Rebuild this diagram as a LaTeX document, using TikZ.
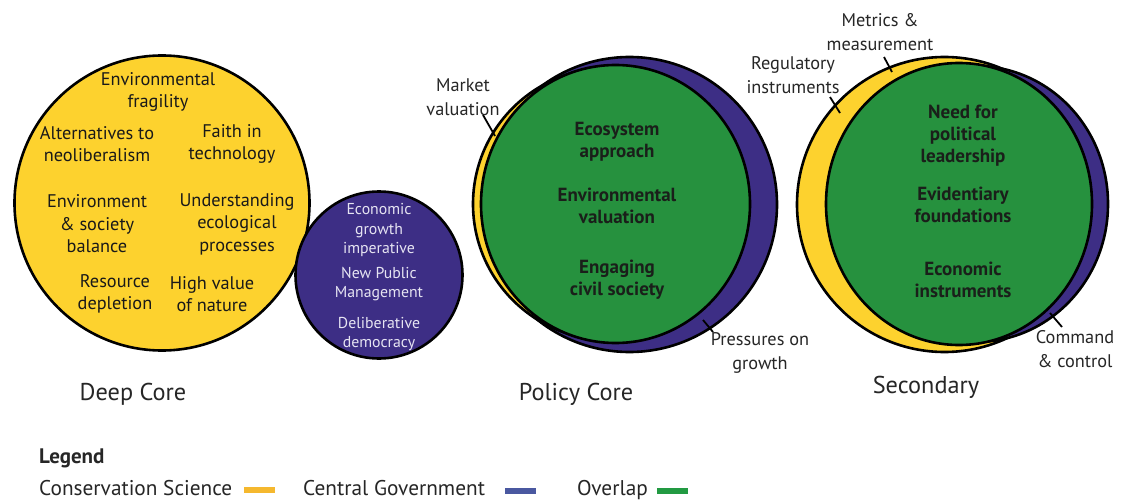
\documentclass[tikz,border=0pt]{standalone}
\usepackage{fontspec}
\setmainfont{PT Sans}
\definecolor{cyel}{HTML}{FDD22E}
\definecolor{cpur}{HTML}{3D2E85}
\definecolor{cgrn}{HTML}{26913E}
\definecolor{lyel}{HTML}{F5B82E}
\definecolor{lpur}{HTML}{4A58A0}
\definecolor{lgrn}{HTML}{229A42}
\definecolor{ptxt}{HTML}{E6E4F2}
\definecolor{gtxt}{HTML}{1A1F1A}
\tikzset{
  ring/.style={draw=black, line width=2.6pt},
  yel/.style={ring, fill=cyel},
  pur/.style={ring, fill=cpur},
  grn/.style={ring, fill=cgrn},
  ytext/.style={inner sep=0pt, align=center, text=black!90, font=\fontsize{18.3}{22.5}\selectfont},
  ptext/.style={inner sep=0pt, align=center, text=ptxt, font=\fontsize{15.8}{19.5}\selectfont},
  gtext/.style={inner sep=0pt, align=center, text=gtxt, font=\bfseries\fontsize{19}{22}\selectfont},
  lbl/.style={inner sep=0pt, align=center, text=black!85, font=\fontsize{18.3}{23.5}\selectfont},
  ttl/.style={inner sep=0pt, text=black!85, font=\fontsize{24.3}{28}\selectfont},
  leg/.style={inner sep=0pt, anchor=base west, text=black!85, font=\fontsize{21.3}{24}\selectfont},
  tick/.style={draw=black, line width=1.8pt},
  bar/.style={line width=6pt}
}
\begin{document}
\begin{tikzpicture}[x=1pt, y=-1pt]
\useasboundingbox[fill=white] (0,0) rectangle (1124,500);
% Deep core
\draw[yel] (162,203) circle [radius=147.5];
\draw[pur] (379,275) circle [radius=83.5];
\node[ytext] (dc1) at (158,92) {Environmental\\fragility};
\node[ytext] (dc2) at (97,144) {Alternatives to\\neoliberalism};
\node[ytext] (dc3) at (232,144) {Faith in\\technology};
\node[ytext] (dc4) at (97,224) {Environment\\\& society\\balance};
\node[ytext] (dc5) at (237,224) {Understanding\\ecological\\processes};
\node[ytext] (dc6) at (115,294) {Resource\\depletion};
\node[ytext] (dc7) at (212,294) {High value\\of nature};
\node[ptext] (pc1) at (379,230) {Economic\\growth\\imperative};
\node[ptext] (pc2) at (379,284) {New Public\\Management};
\node[ptext] (pc3) at (379,334) {Deliberative\\democracy};
\node[ttl] (t1) at (133,394) {Deep Core};
% Policy core
\draw[pur] (629.5,204.5) circle [radius=147.5];
\draw[yel] (609,204) circle [radius=136];
\draw[grn] (615.5,204) ellipse [x radius=134.5, y radius=139];
\node[gtext] (g1) at (617,142) {Ecosystem\\approach};
\node[gtext] (g2) at (617,206) {Environmental\\valuation};
\node[gtext] (g3) at (617,280) {Engaging\\civil society};
\node[lbl] (mv) at (463,97) {Market\\valuation};
\node[lbl] (pg) at (760,353) {Pressures on\\growth};
\coordinate (mva) at (483,115);
\coordinate (mvb) at (495,136);
\coordinate (pga) at (703,320);
\coordinate (pgb) at (713,332);
\draw[tick] (mva) -- (mvb);
\draw[tick] (pga) -- (pgb);
\node[ttl] (t2) at (576,394) {Policy Core};
% Secondary
\draw[yel] (944.5,204.5) circle [radius=147.5];
\draw[pur] (976,204) ellipse [x radius=132, y radius=138];
\draw[grn] (959,204) ellipse [x radius=133, y radius=141];
\node[gtext] (s1) at (963,136) {Need for\\political\\leadership};
\node[gtext] (s2) at (963,205) {Evidentiary\\foundations};
\node[gtext] (s3) at (963,280) {Economic\\instruments};
\node[lbl] (mm) at (880,32) {Metrics \&\\measurement};
\node[lbl] (ri) at (793,75) {Regulatory\\instruments};
\node[lbl] (cc) at (1075,349) {Command\\\& control};
\coordinate (mma) at (884,57);
\coordinate (mmb) at (892,72);
\coordinate (ria) at (830,97);
\coordinate (rib) at (840,113);
\coordinate (cca) at (1050,313);
\coordinate (ccb) at (1062,327);
\draw[tick] (mma) -- (mmb);
\draw[tick] (ria) -- (rib);
\draw[tick] (cca) -- (ccb);
\node[ttl] (t3) at (926,387) {Secondary};
% Legend
\node[leg, font=\bfseries\fontsize{21}{24}\selectfont] (lg) at (39,463) {Legend};
\node[leg] (l1) at (39,495) {Conservation Science};
\node[leg] (l2) at (303,495) {Central Government};
\node[leg] (l3) at (577,495) {Overlap};
\coordinate (b1a) at (244,490); \coordinate (b1b) at (275,490);
\coordinate (b2a) at (505,491); \coordinate (b2b) at (536,491);
\coordinate (b3a) at (657,491); \coordinate (b3b) at (688,491);
\draw[bar, lyel] (b1a) -- (b1b);
\draw[bar, lpur] (b2a) -- (b2b);
\draw[bar, lgrn] (b3a) -- (b3b);
\end{tikzpicture}
\end{document}
